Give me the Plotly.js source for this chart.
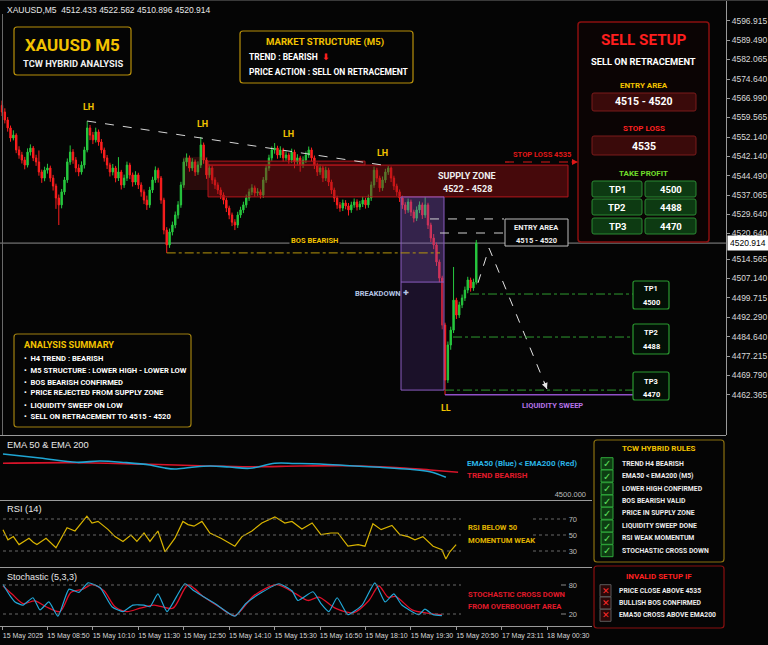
<!DOCTYPE html>
<html><head><meta charset="utf-8">
<script src="https://cdn.plot.ly/plotly-3.0.1.min.js"></script>
<style>html,body{margin:0;padding:0;background:#050505;}#c{width:768px;height:645px;}</style>
</head><body><div id="c"></div>
<script>
// ---------------- DATA ----------------
const open = [4565.0,4562.5,4559.5,4556.5,4552.7,4553.8,4548.2,4546.3,4544.4,4542.5,
4547.4,4548.9,4545.2,4543.7,4539.9,4537.6,4540.6,4541.4,4537.6,4534.6,
4530.1,4527.5,4532.4,4536.9,4543.7,4547.4,4544.4,4541.4,4539.9,4542.5,
4548.2,4556.5,4553.8,4552.0,4555.0,4551.2,4548.2,4545.2,4542.5,4539.9,
4541.4,4537.6,4539.9,4535.0,4537.6,4542.5,4538.8,4536.1,4538.8,4535.0,
4532.4,4529.3,4527.5,4533.1,4536.9,4540.6,4537.6,4529.3,4518.0,4512.4,
4517.3,4519.9,4523.7,4527.5,4535.0,4543.7,4545.2,4541.4,4543.7,4539.9,
4542.5,4550.1,4544.4,4538.8,4541.4,4536.9,4535.0,4533.1,4531.2,4529.3,
4526.3,4523.7,4521.0,4519.9,4523.7,4525.6,4527.5,4530.1,4532.4,4533.9,
4532.0,4532.4,4531.2,4536.9,4541.4,4545.2,4548.2,4548.9,4546.3,4548.2,
4545.2,4546.3,4544.4,4547.4,4543.7,4545.2,4542.5,4544.4,4546.3,4548.2,
4545.2,4542.5,4539.9,4541.4,4537.6,4540.6,4536.1,4533.1,4530.1,4527.5,
4526.3,4528.2,4527.1,4525.6,4527.5,4528.6,4526.7,4527.8,4529.3,4527.5,
4530.1,4535.0,4540.6,4537.6,4533.9,4536.9,4539.9,4541.4,4537.6,4534.6,
4532.4,4530.1,4527.5,4525.6,4528.6,4524.8,4522.5,4525.6,4527.5,4523.7,
4527.5,4519.9,4515.0,4512.4,4506.0,4499.9,4482.2,4461.5,4474.7,4480.3,
4491.6,4486.0,4489.8,4492.4,4495.4,4499.2,4496.2,4498.4];
const close = [4562.5,4559.5,4556.5,4552.7,4553.8,4548.2,4546.3,4544.4,4542.5,4547.4,
4548.9,4545.2,4543.7,4539.9,4537.6,4540.6,4541.4,4537.6,4534.6,4530.1,
4527.5,4532.4,4536.9,4543.7,4547.4,4544.4,4541.4,4539.9,4542.5,4548.2,
4556.5,4553.8,4552.0,4555.0,4551.2,4548.2,4545.2,4542.5,4539.9,4541.4,
4537.6,4539.9,4535.0,4537.6,4542.5,4538.8,4536.1,4538.8,4535.0,4532.4,
4529.3,4527.5,4533.1,4536.9,4540.6,4537.6,4529.3,4518.0,4512.4,4517.3,
4519.9,4523.7,4527.5,4535.0,4543.7,4545.2,4541.4,4543.7,4539.9,4542.5,
4550.1,4544.4,4538.8,4541.4,4536.9,4535.0,4533.1,4531.2,4529.3,4526.3,
4523.7,4521.0,4519.9,4523.7,4525.6,4527.5,4530.1,4532.4,4533.9,4532.0,
4532.4,4531.2,4536.9,4541.4,4545.2,4548.2,4548.9,4546.3,4548.2,4545.2,
4546.3,4544.4,4547.4,4543.7,4545.2,4542.5,4544.4,4546.3,4548.2,4545.2,
4542.5,4539.9,4541.4,4537.6,4540.6,4536.1,4533.1,4530.1,4527.5,4526.3,
4528.2,4527.1,4525.6,4527.5,4528.6,4526.7,4527.8,4529.3,4527.5,4530.1,
4535.0,4540.6,4537.6,4533.9,4536.9,4539.9,4541.4,4537.6,4534.6,4532.4,
4530.1,4527.5,4525.6,4528.6,4524.8,4522.5,4525.6,4527.5,4523.7,4527.5,
4519.9,4515.0,4512.4,4506.0,4499.9,4482.2,4461.5,4474.7,4480.3,4491.6,
4486.0,4489.8,4492.4,4495.4,4499.2,4496.2,4498.4,4513.1];
const high = [4566.8,4563.9,4560.6,4557.4,4555.6,4554.5,4549.6,4547.5,4545.6,4548.8,
4550.3,4549.7,4546.4,4548.0,4540.8,4541.9,4543.0,4542.3,4538.8,4535.5,
4531.4,4533.5,4538.0,4545.0,4549.9,4548.5,4545.5,4542.8,4543.9,4549.4,
4559.1,4557.6,4555.0,4556.6,4555.9,4552.3,4549.1,4546.3,4543.4,4542.9,
4542.2,4545.5,4540.7,4538.9,4543.8,4543.4,4539.7,4540.2,4539.6,4536.0,
4533.3,4531.0,4534.3,4538.1,4542.0,4541.5,4538.4,4530.2,4519.1,4518.6,
4521.2,4525.0,4528.9,4536.2,4545.0,4546.9,4546.1,4545.1,4544.6,4543.9,
4553.1,4551.0,4545.3,4542.7,4542.3,4537.9,4536.0,4534.1,4532.2,4530.2,
4527.2,4524.6,4522.1,4524.9,4526.8,4528.7,4531.4,4533.6,4535.3,4534.8,
4533.8,4533.3,4538.0,4542.6,4546.4,4549.5,4550.8,4549.8,4549.6,4549.0,
4547.7,4547.2,4548.7,4548.3,4546.6,4546.0,4545.8,4547.6,4549.5,4549.1,
4546.1,4543.4,4542.8,4542.3,4541.9,4541.5,4537.0,4534.0,4531.0,4528.6,
4529.5,4529.3,4528.2,4528.7,4529.9,4529.6,4529.0,4530.6,4530.2,4531.4,
4536.3,4541.9,4541.5,4538.5,4538.2,4541.1,4542.2,4542.0,4538.5,4535.5,
4533.3,4531.0,4528.5,4529.9,4529.5,4525.7,4526.9,4528.8,4528.4,4530.5,
4528.3,4520.8,4516.5,4513.3,4506.9,4500.8,4483.1,4476.0,4481.6,4504.1,
4492.5,4491.0,4493.7,4496.7,4500.4,4500.1,4499.7,4514.3];
const low = [4561.0,4558.2,4555.1,4551.3,4551.8,4547.0,4544.9,4543.1,4540.9,4541.6,
4546.1,4544.0,4542.2,4538.5,4535.8,4536.4,4539.3,4536.2,4532.9,4526.0,
4519.9,4526.2,4531.3,4535.8,4542.6,4543.0,4539.8,4538.3,4538.9,4541.2,
4547.3,4551.9,4550.4,4551.0,4549.8,4546.9,4543.8,4541.0,4538.2,4538.6,
4536.0,4536.5,4533.3,4533.9,4536.5,4537.2,4534.4,4535.0,4533.5,4530.6,
4527.8,4525.6,4526.4,4532.0,4535.8,4535.9,4527.9,4516.4,4509.4,4511.3,
4516.0,4518.7,4522.3,4526.4,4533.9,4542.1,4540.0,4540.3,4538.4,4538.8,
4541.4,4543.0,4537.3,4537.7,4535.4,4533.5,4531.6,4529.7,4527.7,4524.8,
4522.1,4519.5,4518.0,4518.8,4522.6,4524.4,4526.4,4529.0,4531.2,4530.6,
4530.9,4529.9,4530.1,4535.8,4540.3,4544.1,4546.8,4544.9,4545.2,4543.8,
4544.1,4543.0,4543.3,4541.3,4542.6,4540.0,4541.4,4543.3,4545.2,4543.9,
4541.0,4538.4,4538.8,4536.1,4536.5,4534.6,4531.6,4528.6,4526.0,4524.9,
4525.2,4525.8,4523.5,4524.5,4526.4,4525.4,4525.6,4526.7,4526.1,4526.4,
4529.0,4533.9,4536.1,4532.4,4532.8,4535.8,4538.8,4536.1,4533.1,4530.9,
4528.6,4526.0,4524.1,4524.5,4523.3,4520.9,4521.4,4524.4,4522.2,4522.6,
4518.4,4513.5,4510.8,4504.5,4498.3,4480.6,4455.9,4460.4,4472.9,4479.2,
4484.5,4484.9,4488.6,4491.3,4494.2,4494.8,4495.1,4497.5];

// price-axis tick positions (on the drawing scale) and the labels shown
const priceTickVals = [4596.92,4589.64,4582.48,4574.94,4567.78,4560.62,4553.08,4545.92,4538.39,4531.22,
4524.06,4516.90,4507.10,4499.83,4492.52,4485.24,4477.82,4470.54,4463.27,4455.85];
const priceTickText = ['4596.915','4589.490','4582.065','4574.640','4566.990','4559.565','4552.140','4542.140','4544.490','4537.065',
'4529.640','4520.640','4514.565','4507.140','4499.715','4492.290','4484.640','4477.215','4469.790','4462.365'];

const timeTickIdx = [0,16,32,48,64,80,96,112,128,144,160,176,192];
const timeTickText = ['15 May 2025','15 May 08:50','15 May 10:10','15 May 11:30','15 May 12:50','15 May 14:10','15 May 15:30','15 May 16:50','15 May 18:10','15 May 19:30','15 May 20:50','17 May 23:11','18 May 00:30'];

// drawn levels (drawing scale)
const supplyLevels = [4530.5, 4542.5, 4544.0];
const stopLevel = 4543.66;
const entryLevels = [4522.2, 4516.9];
const tpLevels = [4493.9, 4477.7, 4457.7];
const tpText = ['4500','4488','4470'];
const breakdownLevels = [4457.7, 4498.4, 4530.5];
const projX = [167.6, 171.5, 191.9];
const projY = [4498.1, 4511.2, 4458.1];

// EMA
const ema50X = [0.35,13.4,26.4,34.5,43.3,52.1,57.4,60.9,66.2,73.2,80,87.3,96.1,103.2,112,122.5,133.1,143.7,150.7,156.3];
const ema50Y = [4561.6,4555.4,4548.8,4550.8,4548.5,4544.7,4540.0,4538.5,4540.8,4543.1,4541.6,4539.6,4547.3,4547.0,4546.2,4543.6,4541.1,4538.0,4534.3,4525.7];
const ema200X = [0.35,26.4,52.1,69.7,87.3,104.9,122.5,140.1,150.7,160.6];
const ema200Y = [4547.3,4548.2,4545.7,4543.6,4542.0,4543.1,4543.6,4540.5,4537.0,4533.4];

// RSI
const rsiX = [0.35,2.1,4,6,9.5,11,12.3,15.5,19,22.9,25.7,29.9,31.7,33.8,37.3,39.8,42.6,45.4,47.5,50,52.1,54.9,57.4,60.9,63.7,65.5,67.6,70.4,73.2,77.1,82,84.5,88,91.5,96.1,99.6,102.1,105.6,109.2,112.3,115.8,118.3,121.8,125.4,127.8,130.6,133.5,137.3,140.1,143,145.4,148.2,151.8,154.9,156.3,157.7,159.9];
const rsiY = [56.7,44,48,38,46,41,38,46,34,59,55,73.6,65,67,57,48,42,50,42,52.5,42,55,29,46,67,63,61,67,52.5,46,36,48,55,65,72.7,65,67,57.6,65,50.4,52.5,52.5,36,38,36,64,56.7,62,50.4,48,44,48,36,31.5,20,29,38];

// Stochastic
const kX = [0.35,2.8,4.6,7.4,10.9,13.4,16.5,19.7,23.6,27.1,30.3,34.5,38.7,42.6,46.1,50,52.1,54.9,58.1,64.4,67.6,70.4,75,82,85.9,91.5,97.5,102.1,104.2,109.5,112.3,115.1,118,121.8,126.8,131.3,134.9,138,140.8,146.8,148.9,151.8,154.9];
const kY = [81,58,45,38.5,53.6,28.6,45,15.4,71.4,64.8,84.6,74.7,35,25,38.5,38.5,35,61.5,25,82.6,68,58,41.7,15.4,41.7,64.8,82.6,68,48,66,41.7,25,53.6,18.7,38.5,84.6,45,61.5,38.5,18.7,30,18.7,16.7];
const dX = [0.35,3.5,7.4,11.6,15.5,20.4,24.3,28.5,31.7,35.9,39.8,44,48.6,53.5,60.2,65.5,71.1,76.4,82,88.7,96.8,103.5,107.7,111.6,117.3,123.9,129.2,132.7,135.9,138.7,144.4,149.6,154.9];
const dY = [78,61.5,41.7,47,35,25,64.8,71.4,81,68,35,25,32,38.5,32,80,55,35,16.7,58,81,61.5,48,55,32,23,48,78,55,56,28.6,22,18.7];

const summary = ['H4 TREND : BEARISH','M5 STRUCTURE : LOWER HIGH - LOWER LOW','BOS BEARISH CONFIRMED','PRICE REJECTED FROM SUPPLY ZONE','LIQUIDITY SWEEP ON LOW','SELL ON RETRACEMENT TO 4515 - 4520'];
const rules = ['TREND H4 BEARISH','EMA50 &lt; EMA200 (M5)','LOWER HIGH CONFIRMED','BOS BEARISH VALID','PRICE IN SUPPLY ZONE','LIQUIDITY SWEEP DONE','RSI WEAK MOMENTUM','STOCHASTIC CROSS DOWN'];
const invalid = ['PRICE CLOSE ABOVE 4535','BULLISH BOS CONFIRMED','EMA50 CROSS ABOVE EMA200'];

// ---------------- LAYOUT HELPERS ----------------
const W = 768, H = 645;
const X = p => p / W, Y = p => 1 - p / H;
const xi = p => (p - 2) / 2.84;
const F = 'Roboto, "Open Sans", sans-serif';
const FA = '"Liberation Sans", Arial, sans-serif';
const FD = '"DejaVu Sans", sans-serif';
const GOLD = '#f2c200';
const idx = open.map((_, i) => i);
const last = close.length - 1;

function T(x, y, text, o) {
  o = o || {};
  const a = {xref:'paper', yref:'paper', x:X(x), y:Y(y), text:text, showarrow:false,
    xanchor:o.a || 'left', yanchor:'middle',
    font:{family:o.f || F, size:o.s || 8, color:o.c || '#ffffff'}};
  if (o.bg) { a.bgcolor = o.bg; a.borderpad = o.bp || 1; }
  return a;
}
function R(x0, y0, x1, y1, line, fill, lw, dash) {
  return {type:'rect', xref:'paper', yref:'paper', x0:X(x0), x1:X(x1), y0:Y(y1), y1:Y(y0),
    line:{color:line || 'rgba(0,0,0,0)', width:lw === undefined ? 1 : lw, dash:dash || 'solid'}, fillcolor:fill || 'rgba(0,0,0,0)'};
}
function RR(x0, y0, x1, y1, r, line, fill, lw) {
  const rx = r / W, ry = r / H, a = X(x0), b = X(x1), c = Y(y0), d = Y(y1);
  const p = `M${a+rx},${c} L${b-rx},${c} Q${b},${c} ${b},${c-ry} L${b},${d+ry} Q${b},${d} ${b-rx},${d} L${a+rx},${d} Q${a},${d} ${a},${d+ry} L${a},${c-ry} Q${a},${c} ${a+rx},${c} Z`;
  return {type:'path', xref:'paper', yref:'paper', path:p, line:{color:line, width:lw || 1}, fillcolor:fill};
}
function L(x0, y0, x1, y1, color, w, dash) {
  return {type:'line', xref:'paper', yref:'paper', x0:X(x0), x1:X(x1), y0:Y(y0), y1:Y(y1), line:{color:color, width:w || 1, dash:dash || 'solid'}};
}
function DL(xr, yr, x0, y0, x1, y1, color, w, dash, layer) {
  const s = {type:'line', xref:xr, yref:yr, x0:x0, x1:x1, y0:y0, y1:y1, line:{color:color, width:w || 1, dash:dash || 'solid'}};
  if (layer) s.layer = layer;
  return s;
}
function DR(x0, x1, y0, y1, line, fill, lw) {
  return {type:'rect', xref:'x', yref:'y', x0:x0, x1:x1, y0:y0, y1:y1, line:{color:line || 'rgba(0,0,0,0)', width:lw || 1}, fillcolor:fill};
}

// ---------------- TRACES ----------------
const traces = [
  {type:'candlestick', x:idx, open:open, high:high, low:low, close:close, xaxis:'x', yaxis:'y',
   increasing:{line:{color:'#27c93f', width:1}, fillcolor:'#27c93f'},
   decreasing:{line:{color:'#ff1f1f', width:1}, fillcolor:'#ff1f1f'},
   whiskerwidth:0, hoverinfo:'skip'},
  {type:'scatter', mode:'lines', x:projX, y:projY, xaxis:'x', yaxis:'y',
   line:{color:'#e6e6e6', width:1, dash:'dash'}, hoverinfo:'skip'},
  {type:'scatter', mode:'lines', x:ema200X, y:ema200Y, xaxis:'x2', yaxis:'y2',
   line:{color:'#d8142a', width:1.6, shape:'spline'}, hoverinfo:'skip'},
  {type:'scatter', mode:'lines', x:ema50X, y:ema50Y, xaxis:'x2', yaxis:'y2',
   line:{color:'#1fa6d4', width:1.6, shape:'spline'}, hoverinfo:'skip'},
  {type:'scatter', mode:'lines', x:rsiX, y:rsiY, xaxis:'x2', yaxis:'y3',
   line:{color:'#d9b400', width:1.2}, hoverinfo:'skip'},
  {type:'scatter', mode:'lines', x:dX, y:dY, xaxis:'x2', yaxis:'y4',
   line:{color:'#e0102a', width:1.3, shape:'spline', smoothing:0.8}, hoverinfo:'skip'},
  {type:'scatter', mode:'lines', x:kX, y:kY, xaxis:'x2', yaxis:'y4',
   line:{color:'#22a8d8', width:1.2, shape:'spline', smoothing:0.5}, hoverinfo:'skip'}
];

// ---------------- SHAPES ----------------
const shapes = [];
shapes.push(DL('x','y', -0.7, close[last], 254.9, close[last], '#8c8c8c', 1, 'solid', 'below'));
shapes.push(L(2.5, 14, 2.5, 435, '#6a6a6a', 1));
shapes.push(L(0, 0.5, 768, 0.5, '#3a3a3a', 1));
// supply zone
shapes.push(DR(xi(183), xi(208), 4533.1, 4545.6, 'rgba(0,0,0,0)', 'rgba(150,30,30,0.25)'));
shapes.push(DR(xi(208), xi(365), supplyLevels[1], supplyLevels[2], '#b3161c', 'rgba(150,15,20,0.35)'));
shapes.push(DR(xi(208), xi(568), supplyLevels[0], supplyLevels[1], '#b3161c', 'rgba(150,15,20,0.45)'));
// breakdown box
shapes.push(DR(xi(401), xi(444), breakdownLevels[1], breakdownLevels[2], 'rgba(0,0,0,0)', 'rgba(130,85,190,0.38)'));
shapes.push(DR(xi(401), xi(444), breakdownLevels[0], breakdownLevels[1], 'rgba(0,0,0,0)', 'rgba(70,40,110,0.35)'));
shapes.push(DR(xi(401), xi(444), breakdownLevels[0], breakdownLevels[2], '#8a5cc0', 'rgba(0,0,0,0)'));
shapes.push(DL('x','y', xi(401), breakdownLevels[1], xi(444), breakdownLevels[1], '#8a5cc0', 1));
// LH trend line
shapes.push(DL('x','y', 30, high[30], 136, high[136], '#d6d6d6', 1, 'dash'));
// BOS line
shapes.push(DL('x','y', 58, low[58], xi(440), low[58], '#b8960c', 1, 'dashdot'));
// entry dashed lines
shapes.push(DL('x','y', xi(430), entryLevels[0], xi(504), entryLevels[0], '#cfcfcf', 1, 'dash'));
shapes.push(DL('x','y', xi(440), entryLevels[1], xi(504), entryLevels[1], '#cfcfcf', 1, 'dash'));
// stop loss dashed arrow
shapes.push(DL('x','y', xi(505), stopLevel, xi(574), stopLevel, '#e01818', 1.2, 'dash'));
// TP lines
shapes.push(DL('x','y', xi(470), tpLevels[0], xi(633), tpLevels[0], '#2f9a30', 1, 'dashdot'));
shapes.push(DL('x','y', xi(453), tpLevels[1], xi(633), tpLevels[1], '#2f9a30', 1, 'dashdot'));
shapes.push(DL('x','y', 156, tpLevels[2], xi(633), tpLevels[2], '#2f9a30', 1, 'dashdot'));
// liquidity sweep
shapes.push(DL('x','y', 156, low[156], xi(633), low[156], '#9050c8', 1.5));
// separators
shapes.push(L(0, 435.5, 726, 435.5, '#9a9a9a', 1));
shapes.push(L(0, 500.5, 592, 500.5, '#9a9a9a', 1));
shapes.push(L(0, 567.5, 592, 567.5, '#9a9a9a', 1));
// RSI / stochastic dotted levels
[30,50,70].forEach(v => {
  shapes.push(DL('x2','y3', 0.35, v, xi(461), v, '#6a6a6a', 1, 'dot'));
  shapes.push(DL('x2','y3', xi(533), v, xi(566), v, '#6a6a6a', 1, 'dot'));
});
[20,80].forEach(v => {
  shapes.push(DL('x2','y4', 0.35, v, xi(461), v, '#6a6a6a', 1, 'dot'));
  shapes.push(DL('x2','y4', xi(561), v, xi(566), v, '#8a8a8a', 1));
});
// info boxes
shapes.push(RR(14, 27, 131, 75, 3, '#b8900a', '#050505', 1.2));
shapes.push(RR(240, 31, 413, 83, 3, '#b8900a', '#050505', 1.2));
shapes.push(RR(578, 22, 709, 242, 3, '#8b0f0f', '#0b0404', 1.5));
shapes.push(RR(592, 93, 696, 111, 2, '#7a1a1a', '#3a0a0a', 1));
shapes.push(RR(592, 136, 696, 155, 2, '#7a1a1a', '#3a0a0a', 1));
[[181,197],[199,215],[218,234]].forEach(r => {
  shapes.push(RR(592, r[0], 642, r[1], 2, '#2b8a33', '#0d3a12', 1));
  shapes.push(RR(645, r[0], 696, r[1], 2, '#2b8a33', '#0d3a12', 1));
});
shapes.push(R(505, 219, 568, 246, '#bdbdbd', '#050505', 1));
[[281,309],[324,354],[372,400]].forEach(r => shapes.push(RR(633, r[0], 669, r[1], 2, '#2a9a30', '#031006', 1.2)));
shapes.push(RR(14, 334, 191, 427, 3, '#a08010', '#050505', 1.2));
shapes.push(RR(594, 440, 724, 562, 3, '#8a7010', '#050505', 1.2));
shapes.push(RR(594, 566, 724, 628, 3, '#8a1010', '#050505', 1.2));
const ruleY = [463.7,476,488.7,501,513.3,526,538.3,550.7];
ruleY.forEach(y => shapes.push(R(601, y - 6, 613, y + 6, '#2fa83a', '#0e3d12', 1)));
const invY = [590.7,603,615.3];
invY.forEach(y => shapes.push(R(600, y - 6, 611, y + 6, '#5a5a5a', '#2a0808', 1)));

// ---------------- ANNOTATIONS ----------------
const ann = [];
ann.push(T(5, 10, 'XAUUSD,M5  4512.433 4522.562 4510.896 4520.914', {s:8.5, f:FA, c:'#e8e8e8'}));
ann.push(T(72.5, 45, '<b>XAUUSD M5</b>', {a:'center', s:17, c:GOLD}));
ann.push(T(72.5, 63, '<b>TCW HYBRID ANALYSIS</b>', {a:'center', s:9.3, c:'#f0f0f0'}));
ann.push(T(325, 42, '<b>MARKET STRUCTURE (M5)</b>', {a:'center', s:9.6, c:GOLD}));
ann.push(T(247, 57, '<b>TREND : BEARISH</b>', {s:8.5}));
ann.push(T(326, 57, '<b>⬇</b>', {a:'center', s:9, c:'#ff2020', f:FD}));
ann.push(T(247, 72, '<b>PRICE ACTION : SELL ON RETRACEMENT</b>', {s:8.5}));
// sell setup
ann.push(T(643.5, 40, '<b>SELL SETUP</b>', {a:'center', s:15.2, c:'#ff1e1e'}));
ann.push(T(643.5, 61, '<b>SELL ON RETRACEMENT</b>', {a:'center', s:9.3}));
ann.push(T(643.5, 85, '<b>ENTRY AREA</b>', {a:'center', s:8, c:GOLD}));
ann.push(T(644, 102, '<b>4515 - 4520</b>', {a:'center', s:10.5}));
ann.push(T(643.5, 128, '<b>STOP LOSS</b>', {a:'center', s:8, c:'#ff2020'}));
ann.push(T(644, 146, '<b>4535</b>', {a:'center', s:10.5}));
ann.push(T(643.5, 173, '<b>TAKE PROFIT</b>', {a:'center', s:8, c:'#6fdc2a'}));
[189, 207, 226].forEach((y, k) => {
  ann.push(T(617, y, '<b>TP' + (k + 1) + '</b>', {a:'center', s:9.5}));
  ann.push(T(670.5, y, '<b>' + tpText[k] + '</b>', {a:'center', s:9.5}));
});
// chart labels
[[88,107],[202,124],[288,134],[382,153]].forEach(p => ann.push(T(p[0], p[1], '<b>LH</b>', {a:'center', s:9, c:GOLD})));
ann.push(T(446, 408, '<b>LL</b>', {a:'center', s:9, c:GOLD}));
ann.push(T(467, 176, '<b>SUPPLY ZONE</b>', {a:'center', s:9, c:'#eeeeee'}));
ann.push(T(467, 189, '<b>4522 - 4528</b>', {a:'center', s:9, c:'#eeeeee'}));
ann.push(T(573, 154, '<b>STOP LOSS 4535</b>', {a:'right', s:7.5, c:'#e01818'}));
ann.push(T(536.5, 227, '<b>ENTRY AREA</b>', {a:'center', s:7.5, c:'#eeeeee'}));
ann.push(T(536.5, 240, '<b>4515 - 4520</b>', {a:'center', s:7.5, c:'#eeeeee'}));
ann.push(T(314, 240, '<b>BOS BEARISH</b>', {a:'center', s:7.5, c:GOLD, bg:'#050505', bp:1}));
ann.push(T(378, 293, '<b>BREAKDOWN</b>', {a:'center', s:7.5, c:'#b4c4e4'}));
ann.push(T(406, 293, '✚', {a:'center', s:7, c:'#b4c4e4', f:FD}));
[[289,302],[332,346],[381,394]].forEach((r, k) => {
  ann.push(T(651, r[0], '<b>TP' + (k + 1) + '</b>', {a:'center', s:7.5}));
  ann.push(T(651, r[1], '<b>' + tpText[k] + '</b>', {a:'center', s:7.5}));
});
ann.push(T(552, 405, '<b>LIQUIDITY SWEEP</b>', {a:'center', s:7.5, c:'#b673e8'}));
// arrows
ann.push({xref:'x', yref:'y', axref:'x', ayref:'y', x:xi(578), y:stopLevel, ax:xi(570), ay:stopLevel, text:'', showarrow:true, arrowhead:2, arrowsize:1, arrowwidth:1.2, arrowcolor:'#e01818'});
ann.push({xref:'x', yref:'y', axref:'x', ayref:'y', x:projX[2], y:projY[2], ax:projX[2] - 1.2, ay:projY[2] + 3.1, text:'', showarrow:true, arrowhead:2, arrowsize:1.2, arrowwidth:1, arrowcolor:'#e6e6e6'});
// price tag
ann.push({xref:'paper', yref:'y', x:X(727), y:close[last], xanchor:'left', yanchor:'middle', text:'4520.914', showarrow:false,
  bgcolor:'#ffffff', borderpad:2, width:37, align:'left', font:{family:FA, size:8.5, color:'#000000'}});
// analysis summary
ann.push(T(22, 344, '<b>ANALYSIS SUMMARY</b>', {s:9.2, c:GOLD}));
const sumY = [358,370,382,393,405,417];
summary.forEach((s, k) => ann.push(T(22, sumY[k], '<b>•  ' + s + '</b>', {s:7.6})));
// indicator panels
ann.push(T(5, 445, 'EMA 50 &amp; EMA 200', {s:9.3, f:FA, c:'#e8e8e8'}));
ann.push(T(465, 463, '<b>EMA50 (Blue) &lt; EMA200 (Red)</b>', {s:8, c:'#2ab4e6'}));
ann.push(T(465, 475, '<b>TREND BEARISH</b>', {s:8, c:'#e01a2a'}));
ann.push(T(5, 509, 'RSI (14)', {s:9.3, f:FA, c:'#e8e8e8'}));
ann.push(T(466, 527, '<b>RSI BELOW 50</b>', {s:7.6, c:'#e0b400'}));
ann.push(T(466, 540, '<b>MOMENTUM WEAK</b>', {s:7.6, c:'#e0b400'}));
ann.push(T(5, 577, 'Stochastic (5,3,3)', {s:9, f:FA, c:'#e8e8e8'}));
ann.push(T(466, 594, '<b>STOCHASTIC CROSS DOWN</b>', {s:7.6, c:'#e01a2a'}));
ann.push(T(466, 606, '<b>FROM OVERBOUGHT AREA</b>', {s:7.6, c:'#e01a2a'}));
// rules
ann.push(T(659, 449, '<b>TCW HYBRID RULES</b>', {a:'center', s:8, c:GOLD}));
rules.forEach((r, k) => {
  ann.push(T(607, ruleY[k], '<b>✓</b>', {a:'center', s:10, c:'#5fe05f', f:FD}));
  ann.push(T(620, ruleY[k], '<b>' + r + '</b>', {s:6.8, c:'#ececec'}));
});
ann.push(T(659, 576, '<b>INVALID SETUP IF</b>', {a:'center', s:8, c:'#ff2020'}));
invalid.forEach((r, k) => {
  ann.push(T(605.5, invY[k], '<b>✕</b>', {a:'center', s:9, c:'#ff2a2a', f:FD}));
  ann.push(T(617, invY[k], '<b>' + r + '</b>', {s:6.8, c:'#ececec'}));
});

// ---------------- LAYOUT ----------------
const axBase = {showgrid:false, zeroline:false, fixedrange:true};
const layout = {
  width:W, height:H, margin:{l:0, r:0, t:0, b:0},
  paper_bgcolor:'#050505', plot_bgcolor:'#050505', showlegend:false,
  xaxis:Object.assign({}, axBase, {domain:[0, 726 / W], range:[-0.704, 254.93], anchor:'y', showticklabels:false, showline:false, rangeslider:{visible:false}}),
  yaxis:Object.assign({}, axBase, {domain:[Y(435), 1], range:[4440.77, 4604.72], anchor:'x', side:'right',
    tickvals:priceTickVals, ticktext:priceTickText, ticks:'outside', ticklen:3, tickcolor:'#9a9a9a',
    showline:true, linecolor:'#9a9a9a', linewidth:1, tickfont:{family:FA, size:8.5, color:'#d8d8d8'}}),
  xaxis2:Object.assign({}, axBase, {domain:[0, 592 / W], range:[-0.704, 207.75], anchor:'y4',
    tickvals:timeTickIdx, ticktext:timeTickText, tickangle:0, ticks:'outside', ticklen:3, tickcolor:'#9a9a9a',
    showline:true, linecolor:'#9a9a9a', ticklabelshift:21, ticklabelstandoff:0, tickfont:{family:FA, size:7, color:'#d8d8d8'}}),
  yaxis2:Object.assign({}, axBase, {domain:[Y(500), Y(437)], range:[4490.76, 4587.78], anchor:'x2', side:'right',
    tickvals:[4500], ticktext:['4500.000'], ticklabelposition:'inside', ticks:'', ticklabelstandoff:3,
    tickfont:{family:FA, size:7.5, color:'#bdbdbd'}}),
  yaxis3:Object.assign({}, axBase, {domain:[Y(567), Y(501)], range:[10, 92.5], anchor:'x2', side:'right',
    tickvals:[30,50,70], ticktext:['30','50','70'], ticklabelposition:'inside', ticks:'', ticklabelstandoff:12,
    tickfont:{family:FA, size:7.5, color:'#bdbdbd'}}),
  yaxis4:Object.assign({}, axBase, {domain:[Y(626), Y(568)], range:[-4.83, 115.2], anchor:'x2', side:'right',
    tickvals:[20,80], ticktext:['20','80'], ticklabelposition:'inside', ticks:'', ticklabelstandoff:12,
    tickfont:{family:FA, size:7.5, color:'#bdbdbd'}}),
  shapes:shapes, annotations:ann
};
Plotly.newPlot('c', traces, layout, {displayModeBar:false, staticPlot:true});
</script></body></html>
